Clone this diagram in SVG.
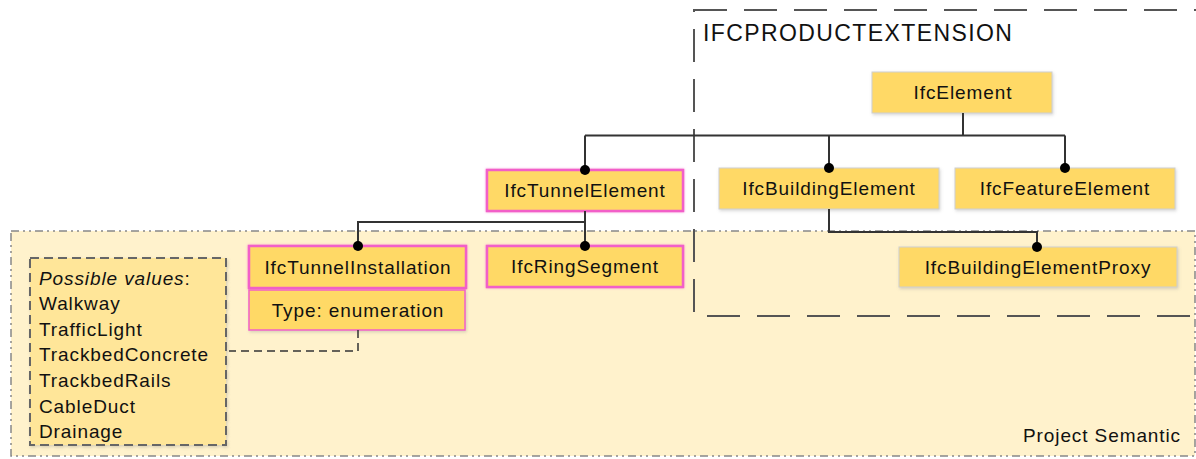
<svg xmlns="http://www.w3.org/2000/svg" width="1196" height="459" viewBox="0 0 1196 459">
  <defs>
    <filter id="shadow" x="-10%" y="-20%" width="120%" height="150%">
      <feDropShadow dx="1" dy="1.5" stdDeviation="1.5" flood-color="#8a8a8a" flood-opacity="0.35"/>
    </filter>
    <filter id="glow" x="-10%" y="-20%" width="120%" height="150%">
      <feDropShadow dx="0" dy="0" stdDeviation="1.2" flood-color="#f060c8" flood-opacity="0.6"/>
    </filter>
    <marker id="dot" viewBox="0 0 10 10" refX="5" refY="5" markerWidth="10" markerHeight="10" markerUnits="userSpaceOnUse">
      <circle cx="5" cy="5" r="5" fill="#000"/>
    </marker>
  </defs>
  <style>
    text { font-family: "Liberation Sans", Arial, sans-serif; font-size: 19px; letter-spacing: 0.9px; fill: #111; }
    .c { text-anchor: middle; }
    .node { fill: #ffd966; stroke: #cfcfcf; stroke-width: 1; filter: url(#shadow); }
    .pink { fill: #ffd966; stroke: #f25fc8; stroke-width: 2.5; filter: url(#glow); }
    .pink-thin { fill: #ffd966; stroke: #f25fc8; stroke-width: 1.5; filter: url(#shadow); }
    .link { fill: none; stroke: #333; stroke-width: 2; }
    .dashed { fill: none; stroke: #333; stroke-width: 1.5; stroke-dasharray: 8 5; }
    .title { font-size: 23px; letter-spacing: 1.4px; }
  </style>

  <!-- Project Semantic region -->
  <g id="project-semantic">
    <rect x="11" y="231" width="1184" height="225" fill="#fff2cc" stroke="#888" stroke-width="1.5" stroke-dasharray="8 4 2 4 2 4"/>
    <text x="1023" y="442">Project Semantic</text>
  </g>

  <!-- IFCPRODUCTEXTENSION package -->
  <g id="ifcproductextension">
    <rect x="694" y="10" width="520" height="306" fill="none" stroke="#555" stroke-width="2" stroke-dasharray="33 17"/>
    <text class="title" x="703" y="41">IFCPRODUCTEXTENSION</text>
  </g>

  <!-- Nodes -->
  <g id="IfcElement">
    <rect class="node" x="872" y="72" width="180" height="41"/>
    <text class="c" x="963" y="99">IfcElement</text>
  </g>
  <g id="IfcBuildingElement">
    <rect class="node" x="719" y="168" width="220" height="41"/>
    <text class="c" x="829" y="195">IfcBuildingElement</text>
  </g>
  <g id="IfcFeatureElement">
    <rect class="node" x="955" y="168" width="220" height="41"/>
    <text class="c" x="1065" y="195">IfcFeatureElement</text>
  </g>
  <g id="IfcTunnelElement">
    <rect class="pink" x="487" y="170" width="196" height="41"/>
    <text class="c" x="585" y="197">IfcTunnelElement</text>
  </g>
  <g id="IfcTunnelInstallation">
    <rect class="pink" x="249" y="246" width="217" height="42"/>
    <text class="c" x="358" y="273.5">IfcTunnelInstallation</text>
    <rect class="pink-thin" x="249" y="290" width="216" height="40"/>
    <text class="c" x="358" y="316.5">Type: enumeration</text>
  </g>
  <g id="IfcRingSegment">
    <rect class="pink" x="487" y="246" width="196" height="41"/>
    <text class="c" x="585" y="273">IfcRingSegment</text>
  </g>
  <g id="IfcBuildingElementProxy">
    <rect class="node" x="899" y="247" width="278" height="40"/>
    <text class="c" x="1038" y="273.5">IfcBuildingElementProxy</text>
  </g>
  <g id="possible-values">
    <rect x="30" y="258" width="196" height="187" fill="#ffe699" stroke="#666" stroke-width="2" stroke-dasharray="9 5" filter="url(#shadow)"/>
    <text x="39" y="284.5"><tspan font-style="italic">Possible values</tspan>:</text>
    <text x="39" y="309.5">Walkway</text>
    <text x="39" y="335.5">TrafficLight</text>
    <text x="39" y="360.5">TrackbedConcrete</text>
    <text x="39" y="386.5">TrackbedRails</text>
    <text x="39" y="412.5">CableDuct</text>
    <text x="39" y="437.5">Drainage</text>
  </g>

  <!-- Connectors (drawn last so the end dots sit on top of the boxes) -->
  <g id="connectors">
    <path class="link" d="M963,113 V135.5"/>
    <path class="link" d="M585,135.5 H1065"/>
    <path class="link" d="M585,135.5 V170" marker-end="url(#dot)"/>
    <path class="link" d="M829,135.5 V168" marker-end="url(#dot)"/>
    <path class="link" d="M1065,135.5 V168" marker-end="url(#dot)"/>
    <path class="link" d="M585,211 V246" marker-end="url(#dot)"/>
    <path class="link" d="M585,222 H358 V246" marker-end="url(#dot)"/>
    <path class="link" d="M829,209 V232 H1037 V247" marker-end="url(#dot)"/>
    <path class="dashed" d="M358,330 V351 H229"/>
  </g>
</svg>
